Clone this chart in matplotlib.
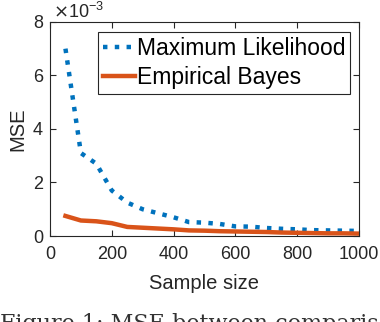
import numpy as np
import matplotlib.pyplot as plt

plt.rcParams['font.family'] = ['Liberation Sans', 'DejaVu Sans']

sample_size = [50, 100, 150, 200, 250, 300, 350, 400, 450, 500,
               550, 600, 650, 700, 750, 800, 850, 900, 950, 1000]
mse_ml = [7.0, 3.1, 2.7, 1.7, 1.25, 1.0, 0.85, 0.7, 0.52, 0.5,
          0.45, 0.36, 0.35, 0.3, 0.27, 0.25, 0.22, 0.21, 0.2, 0.19]
mse_eb = [0.75, 0.58, 0.55, 0.48, 0.34, 0.31, 0.28, 0.25, 0.21, 0.2,
          0.18, 0.17, 0.16, 0.15, 0.13, 0.12, 0.11, 0.1, 0.1, 0.09]

fig = plt.figure(figsize=(3.8, 3.22), dpi=100)
ax = fig.add_axes([0.1316, 0.267, 0.813, 0.665])

x = np.array(sample_size)
ax.plot(x, np.array(mse_ml) * 1e-3, ':', color='#0072BD', lw=3.2,
        label='Maximum Likelihood')
ax.plot(x, np.array(mse_eb) * 1e-3, '-', color='#D95319', lw=3.2,
        label='Empirical Bayes')

ax.set_xlim(0, 1000)
ax.set_ylim(0, 8e-3)
ax.set_xticks([0, 200, 400, 600, 800, 1000])
ax.set_yticks([0, 2e-3, 4e-3, 6e-3, 8e-3])
ax.set_yticklabels(['0', '2', '4', '6', '8'])
ax.tick_params(direction='in', top=True, right=True, labelsize=13,
               colors='#262626', length=4, width=0.8)
ax.tick_params(axis='x', pad=7)
ax.tick_params(axis='y', pad=5)
for s in ax.spines.values():
    s.set_color('#262626')
    s.set_linewidth(0.8)

ax.set_xlabel('Sample size', fontsize=14.5, color='#262626', labelpad=8)
ax.set_ylabel('MSE', fontsize=14.5, color='#262626', labelpad=4)
ax.text(0.01, 1.0, r'$\times\mathregular{10^{-3}}$', transform=ax.transAxes,
        fontsize=13, color='#262626', va='bottom', ha='left')

leg = ax.legend(loc='upper right', bbox_to_anchor=(0.971, 0.953), fontsize=16.5,
                fancybox=False, framealpha=1, edgecolor='#262626',
                handlelength=1.4, handletextpad=0.1, borderpad=0.2,
                labelspacing=0.3, borderaxespad=0)
leg.get_frame().set_linewidth(0.8)

fig.text(0.0, 0.028, 'Figure 1: MSE between comparisons', family='DejaVu Serif',
         fontsize=16, va='top', ha='left', color='#333333')

fig.savefig('out.png', dpi=100)
